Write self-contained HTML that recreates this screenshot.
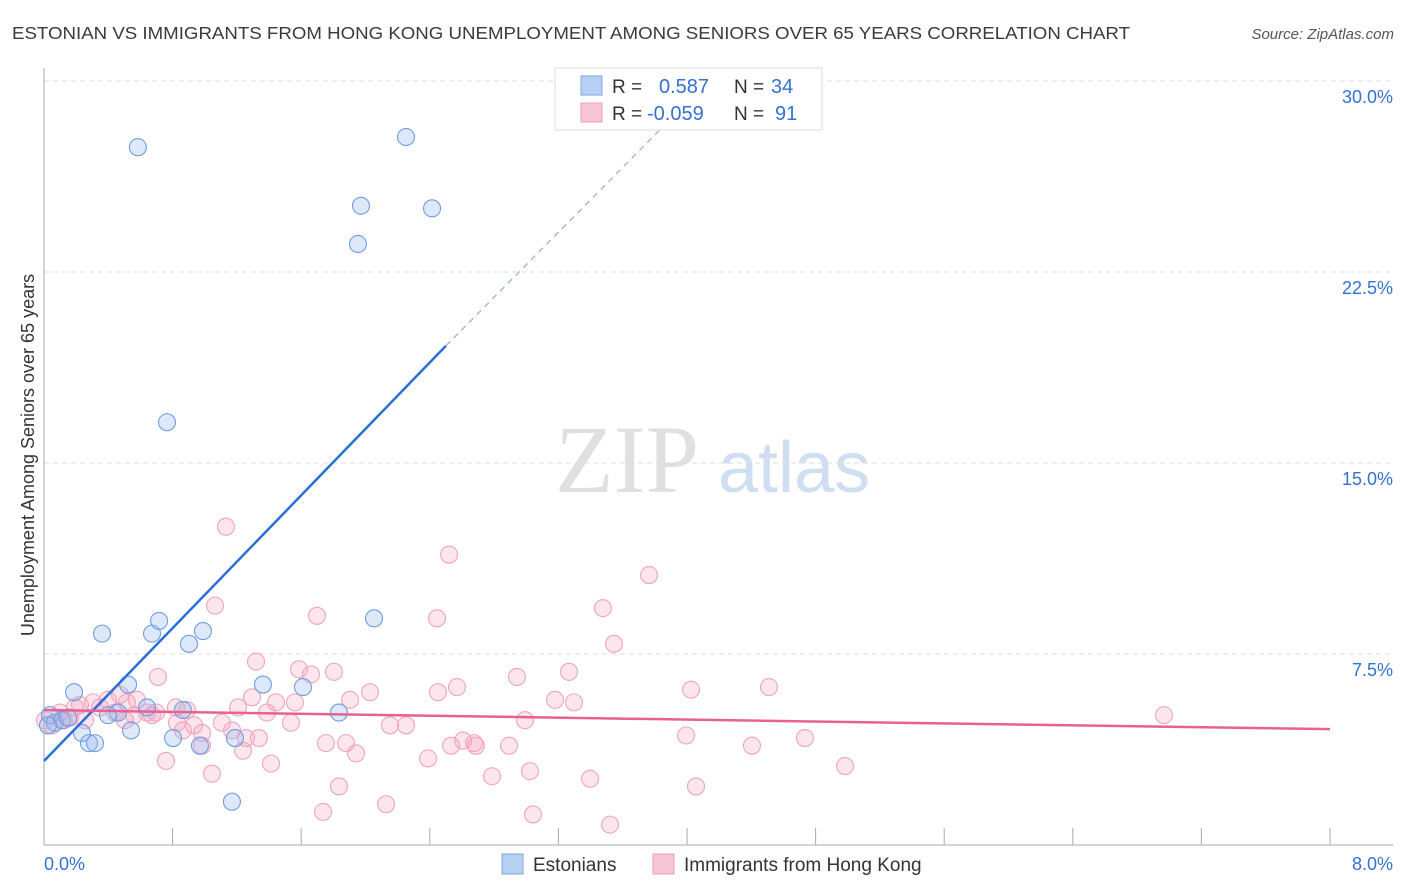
<!DOCTYPE html>
<html><head><meta charset="utf-8">
<style>
body{margin:0;background:#fff;font-family:"Liberation Sans",sans-serif;}
#wrap{position:relative;width:1406px;height:892px;overflow:hidden;}
</style></head>
<body>
<div id="wrap">
<svg id="svg" width="1406" height="892" xmlns="http://www.w3.org/2000/svg">
<text x="12" y="39" font-size="17.5" fill="#3a3a3a" textLength="1118" lengthAdjust="spacingAndGlyphs">ESTONIAN VS IMMIGRANTS FROM HONG KONG UNEMPLOYMENT AMONG SENIORS OVER 65 YEARS CORRELATION CHART</text>
<text x="1394" y="39" font-size="15" fill="#555" font-style="italic" text-anchor="end">Source: ZipAtlas.com</text>
<text x="555" y="492" font-size="96" fill="#e0e0e0" font-family="Liberation Serif, serif">ZIP</text>
<text x="718" y="492" font-size="72" fill="#d0def2">atlas</text>
<text transform="translate(34,455) rotate(-90)" font-size="18" fill="#333" text-anchor="middle">Unemployment Among Seniors over 65 years</text>
<g id="grid"></g><g id="pts"></g><g id="lines"></g>
<g>
<rect x="555" y="68" width="267" height="62" fill="#fff" stroke="#ddd"/>
<rect x="581" y="76" width="21" height="19" fill="#b8d0f4" stroke="#7aa4e0"/>
<rect x="581" y="103" width="21" height="19" fill="#f9c6d6" stroke="#ee9ab5"/>
<text x="612" y="93" font-size="19" fill="#333">R = </text><text x="659" y="93" font-size="20" fill="#3472d1">0.587</text>
<text x="734" y="93" font-size="19" fill="#333">N = </text><text x="771" y="93" font-size="20" fill="#3472d1">34</text>
<text x="612" y="120" font-size="19" fill="#333">R = </text><text x="647" y="120" font-size="20" fill="#3472d1">-0.059</text>
<text x="734" y="120" font-size="19" fill="#333">N = </text><text x="775" y="120" font-size="20" fill="#3472d1">91</text>
</g>
<g>
<rect x="502" y="854" width="21" height="20" fill="#b8d0f4" stroke="#7aa4e0"/>
<text x="533" y="871" font-size="19" fill="#333">Estonians</text>
<rect x="653" y="854" width="21" height="20" fill="#f9c6d6" stroke="#ee9ab5"/>
<text x="684" y="871" font-size="19" fill="#333">Immigrants from Hong Kong</text>
</g>
</svg>
</div>
<script>
const yTicks=[7.5,15,22.5,30];
const yTickLabels=["7.5%","15.0%","22.5%","30.0%"];
const xTickCount=10;
const xMin=0,xMax=8,yMin=0,yMax=30;
const estX=[0.584,2.252,1.972,2.414,1.953,0.765,0.361,0.672,0.716,0.989,0.902,2.053,0.187,0.523,1.362,1.611,0.641,0.46,0.398,0.864,1.835,0.236,0.541,0.28,0.317,0.803,0.97,1.188,1.169,0.037,0.068,0.112,0.149,0.025];
const estY=[27.4,27.8,25.1,25.0,23.6,16.6,8.3,8.3,8.8,8.4,7.9,8.9,6.0,6.3,6.3,6.2,5.4,5.2,5.1,5.3,5.2,4.4,4.5,4.0,4.0,4.2,3.9,4.2,1.7,5.1,4.8,4.9,5.0,4.7];
const hkX=[1.132,2.52,3.764,1.064,3.477,1.698,2.445,3.546,1.319,1.586,1.804,3.266,0.709,1.661,2.942,2.569,2.451,2.028,4.025,4.51,0.473,0.305,0.398,0.516,0.224,0.578,0.697,0.641,0.56,0.672,0.348,0.821,0.89,1.294,1.443,1.561,1.904,3.179,3.297,1.207,1.387,1.107,1.536,0.933,0.864,0.983,0.827,2.152,2.252,2.992,6.967,1.17,1.257,1.337,1.754,1.879,1.941,2.532,2.607,2.687,2.675,2.893,3.994,4.404,4.734,0.983,1.238,0.759,1.412,2.389,1.045,2.787,3.023,3.397,4.983,1.835,4.056,2.128,1.736,3.042,3.521,0.1,0.162,0.255,0.05,0.124,0.193,0.006,0.442,0.504];
const hkY=[12.5,11.4,10.6,9.4,9.3,9.0,8.9,7.9,7.2,6.9,6.8,6.8,6.6,6.7,6.6,6.2,6.0,6.0,6.1,6.2,5.9,5.6,5.7,5.6,5.5,5.7,5.2,5.2,5.1,5.1,5.4,5.4,5.3,5.8,5.6,5.6,5.7,5.7,5.6,5.4,5.2,4.8,4.8,4.7,4.5,4.4,4.8,4.7,4.7,4.9,5.1,4.5,4.2,4.2,4.0,4.0,3.6,3.9,4.1,3.9,4.0,3.9,4.3,3.9,4.2,3.9,3.7,3.3,3.2,3.4,2.8,2.7,2.9,2.6,3.1,2.3,2.3,1.6,1.3,1.2,0.8,5.2,5.0,4.9,4.7,4.9,5.4,4.9,5.2,4.9];
const estLine=[[0,3.3],[2.5,19.6],[3.85,28.2]];
const hkLine=[[0,5.3],[8,4.55]];
const X=v=>44+(v-xMin)/(xMax-xMin)*1286;
const Y=v=>845-(v-yMin)/(yMax-yMin)*764;
const NS="http://www.w3.org/2000/svg";
function mk(t,a,p){const e=document.createElementNS(NS,t);for(const k in a)e.setAttribute(k,a[k]);p.appendChild(e);return e;}
const grid=document.getElementById('grid');
yTicks.forEach((t,i)=>{
  const l=mk('line',{x1:44,x2:1393,y1:Y(t),y2:Y(t),stroke:'#ddd','stroke-dasharray':'5,4'},grid);
  
  
  const tx=mk('text',{x:1393,y:Y(t)+22,'font-size':18,fill:'#3472d1','text-anchor':'end'},grid);
  tx.textContent=yTickLabels[i];
  
  
});
const ax=mk('line',{x1:44,x2:1393,y1:845,y2:845,stroke:'#aaa'},grid);


const ay=mk('line',{x1:44,x2:44,y1:68,y2:845,stroke:'#aaa'},grid);


for(let i=1;i<=xTickCount;i++){const v=xMin+i*(xMax-xMin)/xTickCount;
  const t=mk('line',{x1:X(v),x2:X(v),y1:828,y2:845,stroke:'#aaa'},grid);
  
  }
const x0=mk('text',{x:44,y:870,'font-size':18,fill:'#3472d1'},grid);x0.textContent='0.0%';


const x1=mk('text',{x:1393,y:870,'font-size':18,fill:'#3472d1','text-anchor':'end'},grid);x1.textContent='8.0%';


const pts=document.getElementById('pts');
hkX.forEach((x,i)=>{const c=mk('circle',{cx:X(x),cy:Y(hkY[i]),r:8.5,fill:'rgba(245,160,190,0.28)',stroke:'#f0a5be','stroke-width':1.1},pts);
  
  });
estX.forEach((x,i)=>{const c=mk('circle',{cx:X(x),cy:Y(estY[i]),r:8.5,fill:'rgba(150,185,240,0.32)',stroke:'#6f9de2','stroke-width':1.1},pts);
  
  });
const lines=document.getElementById('lines');
const b1=mk('line',{x1:X(estLine[0][0]),y1:Y(estLine[0][1]),x2:X(estLine[1][0]),y2:Y(estLine[1][1]),stroke:'#2a6fd6','stroke-width':2.5},lines);


const b2=mk('line',{x1:X(estLine[1][0]),y1:Y(estLine[1][1]),x2:X(estLine[2][0]),y2:Y(estLine[2][1]),stroke:'#8ab0e6','stroke-width':1.2,'stroke-dasharray':'6,5'},lines);


const p1=mk('line',{x1:X(hkLine[0][0]),y1:Y(hkLine[0][1]),x2:X(hkLine[1][0]),y2:Y(hkLine[1][1]),stroke:'#e8628f','stroke-width':2.5},lines);


</script>
</body></html>
